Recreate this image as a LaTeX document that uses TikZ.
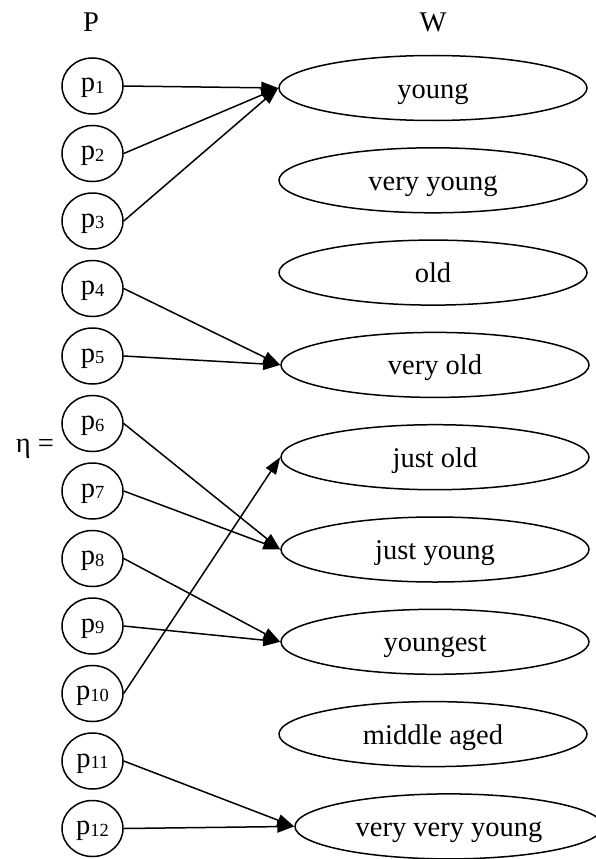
\documentclass[tikz,border=0pt]{standalone}
\usepackage{fontspec}
\setmainfont{Liberation Serif}
\usetikzlibrary{shapes.geometric,arrows.meta}
\newcommand{\psub}[1]{p\raisebox{-1.5pt}{\fontsize{18.5}{20}\selectfont #1}}
\begin{document}
\begin{tikzpicture}[x=1pt,y=-1pt,
  every node/.style={font=\fontsize{28.5}{34}\selectfont},
  pnode/.style={draw,ellipse,line width=1.5pt,minimum width=61pt,minimum height=56pt,inner sep=0pt,text height=18pt,text depth=6pt},
  wnode/.style={draw,ellipse,line width=1.5pt,minimum width=308pt,minimum height=65pt,inner sep=0pt,text height=26pt,text depth=6pt},
  conn/.style={line width=1.5pt,-{Triangle[length=17pt,width=12pt]}}]
\useasboundingbox (0,0) rectangle (595,859);
\node[anchor=base] (P) at (91,32) {P};
\node[anchor=base] (W) at (433,32) {W};
\node[anchor=base] (eta) at (35,452) {η =};
\foreach \i in {1,...,12}{
  \node[pnode] (p\i) at (92.5,{86+67.5*(\i-1)}) {\psub{\i}};
}
\node[wnode] (w1) at (433,88) {young};
\node[wnode] (w2) at (433,180.3) {very young};
\node[wnode] (w3) at (433,272.6) {old};
\node[wnode] (w4) at (435,364.9) {very old};
\node[wnode] (w5) at (435,457.2) {just old};
\node[wnode] (w6) at (435,549.5) {just young};
\node[wnode] (w7) at (435,641.8) {youngest};
\node[wnode] (w8) at (433,734.1) {middle aged};
\node[wnode] (w9) at (449,826.4) {very very young};
\draw[conn] (p1.east) -- (w1.west);
\draw[conn] (p2.east) -- (w1.west);
\draw[conn] (p3.east) -- (w1.west);
\draw[conn] (p4.east) -- (w4.west);
\draw[conn] (p5.east) -- (w4.west);
\draw[conn] (p6.east) -- (w6.west);
\draw[conn] (p7.east) -- (w6.west);
\draw[conn] (p8.east) -- (w7.west);
\draw[conn] (p9.east) -- (w7.west);
\draw[conn] (p10.east) -- (w5.west);
\draw[conn] (p11.east) -- (w9.west);
\draw[conn] (p12.east) -- (w9.west);
\end{tikzpicture}
\end{document}
